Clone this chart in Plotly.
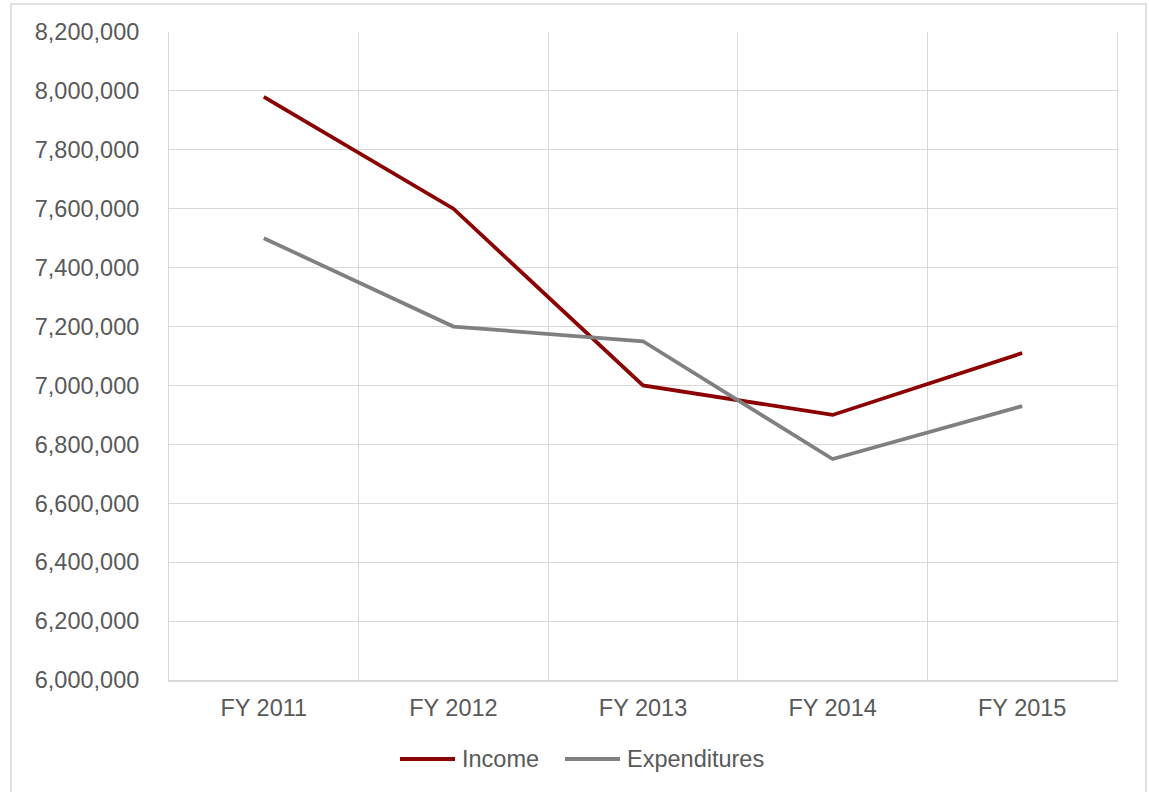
import plotly.graph_objects as go

categories = ["FY 2011", "FY 2012", "FY 2013", "FY 2014", "FY 2015"]
series_names = ["Income", "Expenditures"]
income = [7980000, 7600000, 7000000, 6900000, 7110000]
expenditures = [7500000, 7200000, 7150000, 6750000, 6930000]
series_colors = ["#8b0000", "#808080"]

FONT = "Liberation Sans, Arial, sans-serif"
TXT = "#595959"
GRID = "#d9d9d9"
FS = 23.5

fig = go.Figure()
for name, vals, col in zip(series_names, [income, expenditures], series_colors):
    fig.add_trace(go.Scatter(x=categories, y=vals, mode="lines", name=name,
                             line=dict(color=col, width=3.75), showlegend=False))

L, R, T, B = 169, 32, 32, 112
W, H = 1149, 792
pw, ph = W - L - R, H - T - B

def px_x(x):
    return (x - L) / pw

def px_y(y):
    return (H - B - y) / ph

# outer chart border
fig.add_shape(type="rect", xref="paper", yref="paper",
              x0=px_x(11), x1=px_x(1146), y0=px_y(800), y1=px_y(4),
              line=dict(color="#d9d9d9", width=1.5), fillcolor="rgba(0,0,0,0)", layer="below")

# custom legend (long line samples like the reference)
legend_items = [(400, 455, 460), (565, 620, 625)]
for (lx0, lx1, tx), name, col in zip(legend_items, series_names, series_colors):
    fig.add_shape(type="line", xref="paper", yref="paper",
                  x0=px_x(lx0), x1=px_x(lx1), y0=px_y(759), y1=px_y(759),
                  line=dict(color=col, width=4))
    fig.add_annotation(xref="paper", yref="paper", x=px_x(tx), y=px_y(759),
                       xanchor="left", yanchor="middle", text=name, showarrow=False,
                       font=dict(family=FONT, size=FS, color=TXT))

fig.update_layout(
    width=W, height=H,
    margin=dict(l=L, r=R, t=T, b=B, pad=0),
    paper_bgcolor="white", plot_bgcolor="white",
    font=dict(family=FONT, size=FS, color=TXT),
    showlegend=False,
    xaxis=dict(type="category", categoryorder="array", categoryarray=categories,
               range=[-0.5, 4.5], tickson="boundaries", showgrid=True, gridcolor=GRID,
               gridwidth=1, showline=True, linecolor=GRID, linewidth=1.5, ticks="",
               ticklabelstandoff=6, tickfont=dict(family=FONT, size=FS, color=TXT),
               zeroline=False, fixedrange=True),
    yaxis=dict(range=[6000000, 8200000], dtick=200000, tick0=6000000, tickformat=",d",
               showgrid=True, gridcolor=GRID, gridwidth=1,
               showline=True, mirror=True, linecolor=GRID, linewidth=1, ticks="",
               zeroline=False, ticklabelstandoff=24,
               tickfont=dict(family=FONT, size=FS, color=TXT), fixedrange=True),
)

fig.write_html("out.html", config={"displayModeBar": False},
               post_script="document.body.style.margin='0';")
